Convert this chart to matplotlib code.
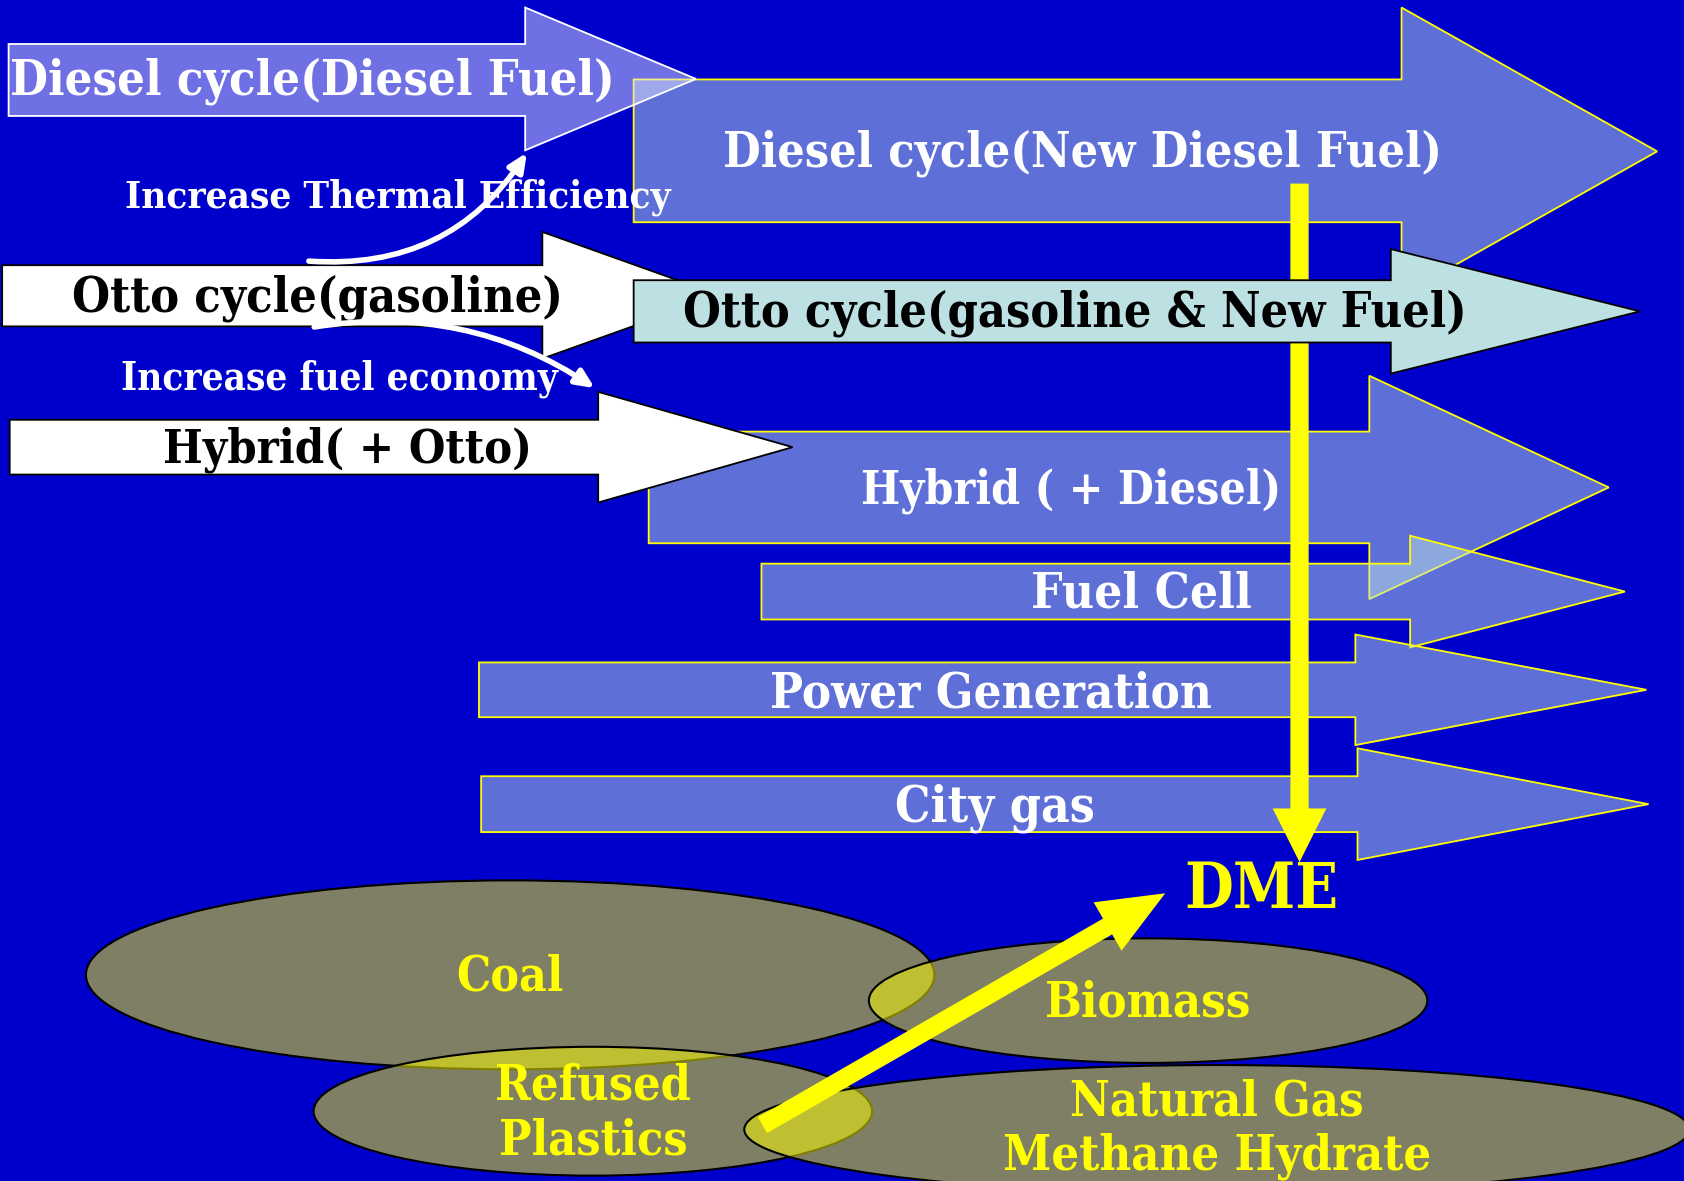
import matplotlib
matplotlib.use('Agg')
import matplotlib.pyplot as plt
from matplotlib.colors import to_rgba
from matplotlib.patches import Polygon, Ellipse, FancyArrowPatch, FancyArrow

# labels of the arrows (fuel / engine paths)
arrow_labels = ['Diesel cycle(Diesel Fuel)', 'Diesel cycle(New Diesel Fuel)',
                'Otto cycle(gasoline)', 'Otto cycle(gasoline & New Fuel)',
                'Hybrid( + Otto)', 'Hybrid ( + Diesel)', 'Fuel Cell',
                'Power Generation', 'City gas']
# feedstock ellipses
source_labels = ['Coal', 'Biomass', 'Refused\nPlastics', 'Natural Gas\nMethane Hydrate']
note_labels = ['Increase Thermal Efficiency', 'Increase fuel economy']
product_label = 'DME'

# arrow geometry: x0, shaft top, shaft bottom, head start x, head top, head bottom, tip x
arrow_geom = [
    (8, 41, 108, 489, 7, 140, 648),
    (590, 74, 207, 1305, 7, 275, 1543),
    (2, 247, 304, 505, 216, 334, 670),
    (590, 261, 319, 1295, 232, 348, 1527),
    (9, 391, 442, 557, 365, 468, 738),
    (604, 402, 506, 1275, 350, 558, 1498),
    (709, 525, 577, 1313, 499, 603, 1513),
    (446, 617, 668, 1262, 591, 694, 1533),
    (448, 723, 775, 1264, 697, 801, 1535),
]
# label centre and target width for each arrow
arrow_text_pos = [(291, 76, 562), (1008, 143, 669), (296, 278, 458), (1001, 292, 731),
                  (324, 419, 344), (997, 457, 392), (1063, 553, 205),
                  (923, 646, 411), (926, 753, 186)]
# order in which the arrows are stacked
draw_order = [1, 0, 5, 6, 7, 8, 2, 4]

BG = '#0000CC'
LIGHT = '#BDE0E2'

fig = plt.figure(figsize=(16.84, 11.81), dpi=100)
fig.patch.set_facecolor(BG)
ax = fig.add_axes([0, 0, 1, 1])
ax.set_facecolor(BG)
ax.set_xlim(0, 1568)
ax.set_ylim(1100, 0)
ax.axis('off')

renderer = fig.canvas.get_renderer()


def fit_text(x, y, s, width, color, z=10, base=24):
    # draw a text, then rescale its font so it spans the wanted width
    t = ax.text(x, y, s, ha='center', va='center', color=color, fontsize=base,
                fontweight='bold', family='DejaVu Serif', fontstretch='condensed',
                zorder=z, linespacing=1.2)
    bb = t.get_window_extent(renderer=renderer)
    w = bb.width * 1568 / 1684.0
    t.set_fontsize(base * width / w)
    return t


def block_arrow(g, face, edge, alpha=1.0, z=2, lw=1.3):
    x0, t, b, xs, ht, hb, tip = g
    yc = (ht + hb) / 2.0
    pts = [(x0, t), (xs, t), (xs, ht), (tip, yc), (xs, hb), (xs, b), (x0, b)]
    ax.add_patch(Polygon(pts, closed=True, facecolor=to_rgba(face, alpha),
                         edgecolor=edge, lw=lw, zorder=z))


styles = {
    0: ('#E0E0FF', 'white', 0.5),
    1: (LIGHT, 'yellow', 0.5),
    2: ('white', 'black', 1.0),
    3: (LIGHT, 'black', 1.0),
    4: ('white', 'black', 1.0),
    5: (LIGHT, 'yellow', 0.5),
    6: (LIGHT, 'yellow', 0.5),
    7: (LIGHT, 'yellow', 0.5),
    8: (LIGHT, 'yellow', 0.5),
}
text_colors = ['white', 'white', 'black', 'black', 'black', 'white', 'white', 'white', 'white']

for k, i in enumerate(draw_order):
    face, edge, a = styles[i]
    z = 2 + k * 0.1
    if i in (2, 4):
        z = 6 + k * 0.1
    block_arrow(arrow_geom[i], face, edge, a, z=z)

# yellow line down to DME, behind the Otto (new fuel) arrow
ax.add_patch(FancyArrow(1210, 171, 0, 632, width=17, head_width=50, head_length=50,
                        length_includes_head=True, color='yellow', lw=0, zorder=4))
block_arrow(arrow_geom[3], LIGHT, 'black', 1.0, z=7)

for i, (x, y, w) in enumerate(arrow_text_pos):
    z = 8 if i in (2, 3, 4) else 5
    fit_text(x, y, arrow_labels[i], w, text_colors[i], z=z)

# curved notes
ax.add_patch(FancyArrowPatch((285, 243), (492, 140), connectionstyle='arc3,rad=0.3',
                             arrowstyle='-|>,head_width=5,head_length=11',
                             color='white', lw=4, zorder=9))
ax.add_patch(FancyArrowPatch((290, 305), (556, 363), connectionstyle='arc3,rad=-0.2',
                             arrowstyle='-|>,head_width=5,head_length=11',
                             color='white', lw=4, zorder=9))
fit_text(370, 184, note_labels[0], 508, 'white', z=9)
fit_text(316, 353, note_labels[1], 407, 'white', z=9)

# feedstock ellipses: centre x, centre y, width, height
ell_geom = [(475, 908, 790, 176), (1069, 932, 520, 116), (552, 1035, 520, 120),
            (1133, 1052, 880, 120)]
ell_text = [(475, 910, 100), (1069, 934, 192), (552, 1037, 182), (1133, 1052, 399)]
for (cx, cy, w, h) in ell_geom:
    ax.add_patch(Ellipse((cx, cy), w, h, facecolor=to_rgba('yellow', 0.5),
                         edgecolor='black', lw=1.5, zorder=10))
for s, (x, y, w) in zip(source_labels, ell_text):
    fit_text(x, y, s, w, 'yellow', z=12)

ax.add_patch(FancyArrow(710, 1048, 375, -216, width=17, head_width=52, head_length=62,
                        length_includes_head=True, color='yellow', lw=0, zorder=11))
fit_text(1175, 829, product_label, 144, 'yellow', z=12)

fig.savefig('out.png', dpi=100, facecolor=BG)
